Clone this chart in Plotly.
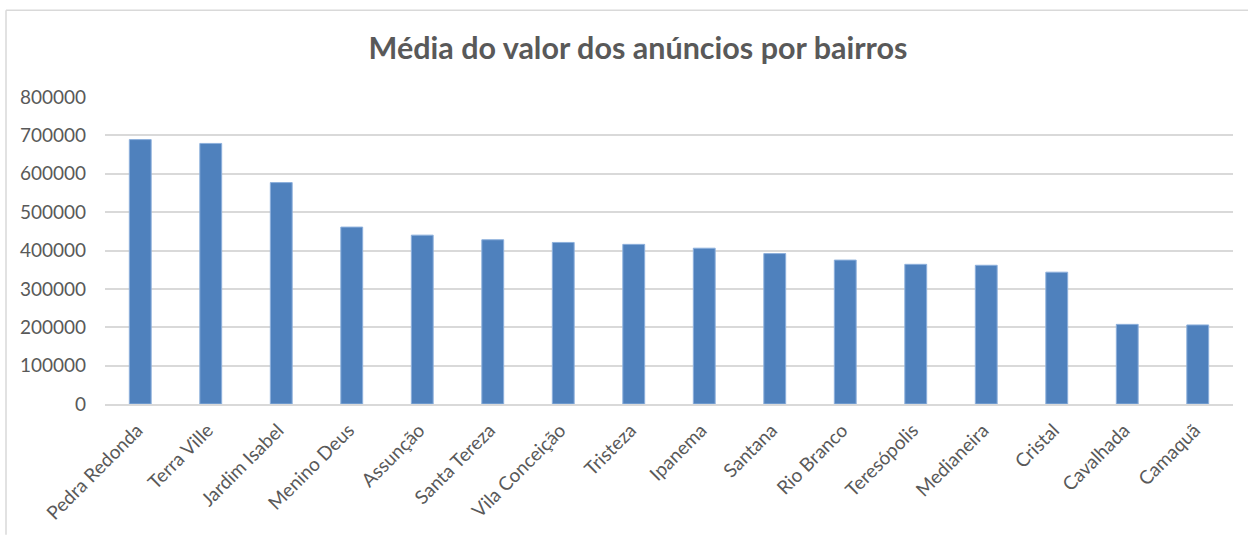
import plotly.graph_objects as go

bairros = ["Pedra Redonda", "Terra Ville", "Jardim Isabel", "Menino Deus", "Assunção",
           "Santa Tereza", "Vila Conceição", "Tristeza", "Ipanema", "Santana",
           "Rio Branco", "Teresópolis", "Medianeira", "Cristal", "Cavalhada", "Camaquã"]
media_valor = [689000, 679000, 577000, 461000, 440000,
               428000, 421000, 416000, 406000, 392000,
               375000, 364000, 361500, 343500, 207500, 206000]
y_ticks = [0, 100000, 200000, 300000, 400000, 500000, 600000, 700000, 800000]

FONT = "Lato"
GREY = "#595959"

fig = go.Figure(go.Bar(
    x=bairros, y=media_valor, width=0.31,
    marker=dict(color="#4F81BD", line=dict(color="#8DB0DC", width=1)),
))

fig.update_layout(
    width=1248, height=535,
    margin=dict(l=105, r=15, t=97, b=131),
    paper_bgcolor="white", plot_bgcolor="white",
    showlegend=False,
    title=dict(text="<b>Média do valor dos anúncios por bairros</b>",
               x=638 / 1248, xref="container", xanchor="center",
               y=1 - 48 / 535, yref="container", yanchor="middle",
               font=dict(family=FONT, size=30.5, color=GREY)),
    font=dict(family=FONT, color=GREY),
)
fig.update_yaxes(range=[0, 800000], tickvals=y_ticks, ticktext=[str(v) for v in y_ticks],
                 showgrid=True, gridcolor="#D9D9D9", gridwidth=1.5,
                 zeroline=False, showline=False,
                 tickfont=dict(family=FONT, size=19, color=GREY),
                 ticks="", ticklabelstandoff=18)
fig.update_xaxes(tickangle=-45, tickfont=dict(family=FONT, size=19, color=GREY),
                 showline=True, linecolor="#D9D9D9", linewidth=1.5,
                 showgrid=False, ticks="", ticklabelstandoff=6, ticklabelshift=-3)

# chart-area border (top and left edges visible in the reference)
fig.add_shape(type="line", xref="paper", yref="paper",
              x0=-99 / 1128, x1=1 + 15 / 1128, y0=1 + 87 / 307.6, y1=1 + 87 / 307.6,
              line=dict(color="#D9D9D9", width=1.5))
fig.add_shape(type="line", xref="paper", yref="paper",
              x0=-99 / 1128, x1=-99 / 1128, y0=1 + 87 / 307.6, y1=-131 / 307.6,
              line=dict(color="#D9D9D9", width=1.5))

fig.write_html("out.html")
